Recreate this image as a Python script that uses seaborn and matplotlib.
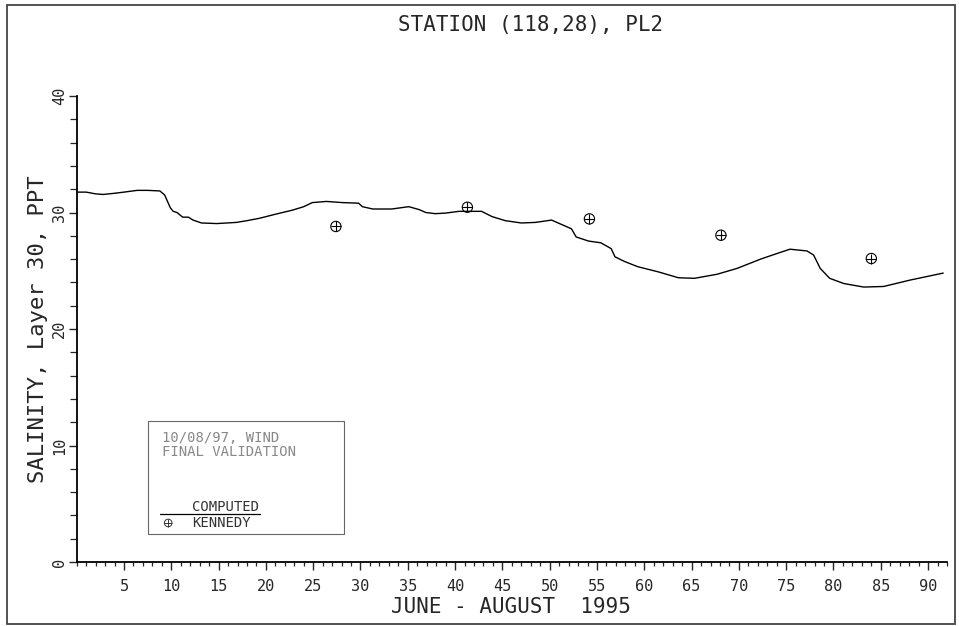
import numpy as np
import pandas as pd
import matplotlib
matplotlib.use("Agg")
import matplotlib.pyplot as plt
from matplotlib.patches import Rectangle
from matplotlib.ticker import MultipleLocator, FixedLocator
import seaborn as sns

# Computed salinity (layer 30) at station (118,28), day index from 1 June 1995
model_day = [0, 1, 2, 2.8, 4, 5, 6.4, 7.5, 8.8, 9.3, 9.9, 10.2, 10.6, 11.2, 11.8,
             12.3, 13.2, 14.8, 16.9, 18, 19.3, 21, 22.8, 24, 24.9, 26.4, 28.1, 29.8,
             30.2, 31.3, 33.3, 35.1, 36.2, 36.9, 37.9, 39, 40.4, 42.8, 43.9, 45.3,
             47.0, 48.5, 50.2, 50.9, 52.3, 52.8, 54.1, 55.4, 56.5, 56.9, 57.9, 59.3,
             61.5, 63.6, 65.3, 67.7, 69.8, 72.3, 74.1, 75.4, 77.2, 77.9, 78.6, 79.6,
             81.1, 83.2, 85.3, 88.1, 91.6]
model_salinity = [31.75, 31.75, 31.6, 31.55, 31.65, 31.75, 31.9, 31.9, 31.85, 31.5,
                  30.4, 30.1, 30.0, 29.6, 29.6, 29.35, 29.1, 29.05, 29.15, 29.3, 29.5,
                  29.85, 30.2, 30.5, 30.85, 30.95, 30.85, 30.8, 30.5, 30.3, 30.3, 30.5,
                  30.25, 30.0, 29.9, 29.95, 30.1, 30.1, 29.65, 29.3, 29.1, 29.15, 29.35,
                  29.1, 28.6, 27.9, 27.55, 27.4, 26.9, 26.2, 25.8, 25.35, 24.9, 24.4,
                  24.35, 24.7, 25.2, 26.0, 26.5, 26.85, 26.7, 26.35, 25.2, 24.35, 23.9,
                  23.6, 23.65, 24.2, 24.8]

# Kennedy observations
obs_day = [27.4, 41.3, 54.2, 68.1, 84.0]
obs_salinity = [28.8, 30.45, 29.45, 28.05, 26.05]

x_major = list(range(5, 91, 5))
y_major = [0, 10, 20, 30, 40]

title_text = "STATION (118,28), PL2"
xlabel_text = "JUNE - AUGUST  1995"
ylabel_text = "SALINITY, Layer 30, PPT"
legend_header = ["10/08/97, WIND", "FINAL VALIDATION"]
legend_line = "COMPUTED"
legend_obs = "KENNEDY"

model_df = pd.DataFrame({"day": model_day, "salinity": model_salinity})
obs_df = pd.DataFrame({"day": obs_day, "salinity": obs_salinity})

sns.set_style("ticks")
plt.rcParams["font.family"] = ["DejaVu Sans Mono", "DejaVu Sans"]

W, H = 959, 626
fig = plt.figure(figsize=(W / 100, H / 100), dpi=100)
ax = fig.add_axes([76.7 / W, 1 - 562 / H, (947 - 76.7) / W, (562 - 96) / H])

sns.lineplot(data=model_df, x="day", y="salinity", ax=ax, color="black",
             linewidth=1.0, sort=False)
sns.scatterplot(data=obs_df, x="day", y="salinity", ax=ax, marker="o", s=55,
                facecolor="none", edgecolor="black", linewidth=0.8, zorder=5)
sns.scatterplot(data=obs_df, x="day", y="salinity", ax=ax, marker="+", s=55,
                color="black", linewidth=0.8, zorder=5)

ax.set_xlim(0, 92)
ax.set_ylim(0, 40)
sns.despine(ax=ax)
for sp in ("left", "bottom"):
    ax.spines[sp].set_linewidth(1.3)
    ax.spines[sp].set_color("black")

ax.xaxis.set_major_locator(FixedLocator(x_major))
ax.xaxis.set_minor_locator(MultipleLocator(1))
ax.yaxis.set_major_locator(FixedLocator(y_major))
ax.yaxis.set_minor_locator(MultipleLocator(2))
ax.tick_params(axis="x", which="major", direction="out", length=6, width=1.0,
               pad=6, labelsize=11)
ax.tick_params(axis="x", which="minor", direction="out", length=3, width=0.9)
ax.tick_params(axis="y", which="major", direction="out", length=6, width=1.0,
               pad=1, labelsize=11)
ax.tick_params(axis="y", which="minor", direction="out", length=5, width=0.9)
for lab in ax.get_yticklabels():
    lab.set_rotation(90)
    lab.set_va("center")
ax.set_xlabel("")
ax.set_ylabel("")

# Legend panel drawn inside the axes
ax.add_patch(Rectangle((7.5, 2.4), 20.8, 9.7, fill=False, edgecolor="#666666",
                       linewidth=0.8, zorder=3))
ax.text(9.0, 10.64, legend_header[0], fontsize=10, color="#888888", va="center")
ax.text(9.0, 9.44, legend_header[1], fontsize=10, color="#888888", va="center")
ax.plot([8.8, 19.4], [4.12, 4.12], color="black", linewidth=0.9)
ax.text(12.2, 4.7, legend_line, fontsize=10, color="#333333", va="center")
ax.scatter([9.67], [3.35], marker="o", s=30, facecolor="none",
           edgecolor="#333333", linewidth=0.7)
ax.scatter([9.67], [3.35], marker="+", s=30, color="#333333", linewidth=0.7)
ax.text(12.2, 3.35, legend_obs, fontsize=10, color="#333333", va="center")

fig.text(531 / W, 1 - 25 / H, title_text, fontsize=15, ha="center", va="center")
fig.text(511 / W, 1 - 607 / H, xlabel_text, fontsize=15, ha="center", va="center")
fig.text(38 / W, 1 - 329 / H, ylabel_text, fontsize=16, rotation=90,
         ha="center", va="center")

# Page frame
fig.patches.append(Rectangle((7 / W, 1 - 624 / H), (955 - 7) / W, (624 - 5) / H,
                             transform=fig.transFigure, fill=False,
                             edgecolor="#444444", linewidth=1.3))

fig.savefig("out.png", dpi=100, facecolor="white")
